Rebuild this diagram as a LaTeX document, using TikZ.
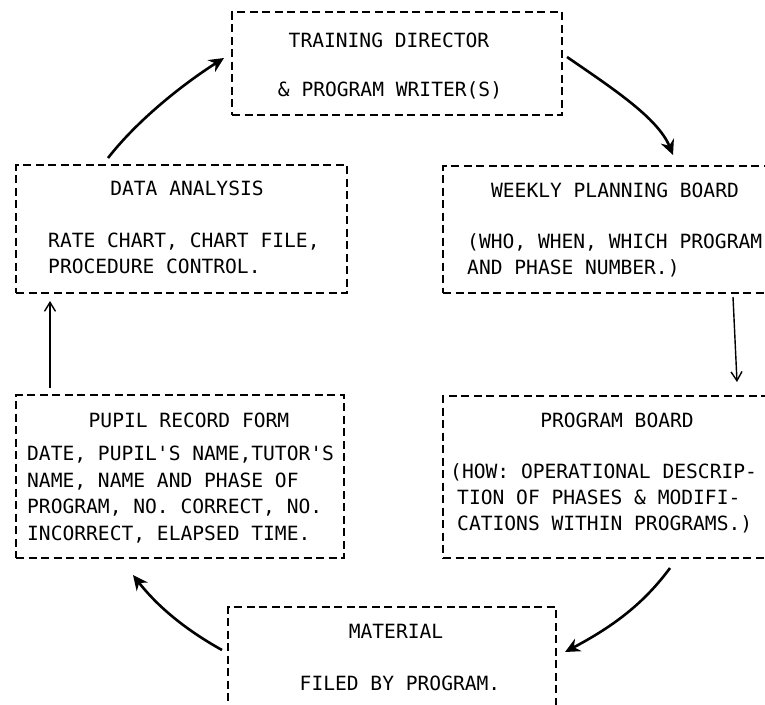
\documentclass[tikz,border=0pt]{standalone}
\usepackage{fontspec}
\newfontfamily\monof{DejaVu Sans Mono}
\usetikzlibrary{arrows.meta}
\begin{document}
\begin{tikzpicture}[x=1pt,y=-1pt,
  box/.style={draw, dash pattern=on 8pt off 4.5pt, line width=2.3pt, inner sep=0pt},
  ttl/.style={anchor=base, inner sep=0pt, font=\monof\fontsize{19.6}{26}\selectfont},
  body/.style={anchor=north west, align=left, inner sep=0pt, font=\monof\fontsize{19.6}{26}\selectfont},
  arr/.style={-{Stealth[length=15pt,width=14pt,inset=5pt]}, line width=2.6pt},
  thinarr/.style={-{Straight Barb[length=9pt,width=11pt]}, line width=1.4pt}]
\useasboundingbox (0,0) rectangle (765,704);
\clip (0,0) rectangle (765,704);
% boxes
\node[box, minimum width=330pt, minimum height=103pt] (td) at (397,63.5) {};
\node[box, minimum width=331pt, minimum height=128pt] (da) at (181.5,229) {};
\node[box, minimum width=357pt, minimum height=127pt] (wp) at (621.5,229.5) {};
\node[box, minimum width=357pt, minimum height=162pt] (pb) at (621.5,477) {};
\node[box, minimum width=328pt, minimum height=163pt] (pr) at (180,476.5) {};
\node[box, minimum width=328pt, minimum height=133pt] (ma) at (392,673.5) {};
% texts
\node[ttl] (tdt) at (389,47) {TRAINING DIRECTOR};
\node[ttl] (tdb) at (390,96) {\& PROGRAM WRITER(S)};
\node[ttl] (dat) at (187,195) {DATA ANALYSIS};
\node[body] (dab) at (48,228.8) {\strut RATE CHART, CHART FILE,\\PROCEDURE CONTROL.};
\node[ttl] (wpt) at (615,197) {WEEKLY PLANNING BOARD};
\node[body] (wpb) at (467,229.8) {\strut (WHO, WHEN, WHICH PROGRAM\\AND PHASE NUMBER.)};
\node[ttl] (pbt) at (617,427) {PROGRAM BOARD};
\node[body] (pbb) at (450,459.8) {\strut (HOW: OPERATIONAL DESCRIP-\\\hspace*{7pt}TION OF PHASES \& MODIFI-\\\hspace*{7pt}CATIONS WITHIN PROGRAMS.)};
\node[ttl] (prt) at (189,427) {PUPIL RECORD FORM};
\node[body, font=\monof\fontsize{19.6}{26.6}\selectfont] (prb) at (27,441.8) {\strut DATE, PUPIL'S NAME,TUTOR'S\\NAME, NAME AND PHASE OF\\PROGRAM, NO. CORRECT, NO.\\INCORRECT, ELAPSED TIME.};
\node[ttl] (mat) at (396,638) {MATERIAL};
\node[ttl] (mab) at (400,690) {FILED BY PROGRAM.};
% connector ends
\coordinate (a1s) at (108,158);  \coordinate (a1e) at (224,58);
\coordinate (a2s) at (567,57);   \coordinate (a2e) at (673,155);
\coordinate (a3s) at (733,297);  \coordinate (a3e) at (737,382);
\coordinate (a4s) at (670,568);  \coordinate (a4e) at (565,652);
\coordinate (a5s) at (222,650);  \coordinate (a5e) at (133,575);
\coordinate (a6s) at (50,388);   \coordinate (a6e) at (50,301);
% connectors
\draw[arr] (a1s) .. controls (136,122) and (180,86) .. (a1e);
\draw[arr] (a2s) .. controls (612,88) and (658,118) .. (a2e);
\draw[thinarr] (a3s) -- (a3e);
\draw[arr] (a4s) .. controls (642,606) and (610,628) .. (a4e);
\draw[arr] (a5s) .. controls (186,630) and (158,607) .. (a5e);
\draw[thinarr] (a6s) -- (a6e);
\end{tikzpicture}
\end{document}
